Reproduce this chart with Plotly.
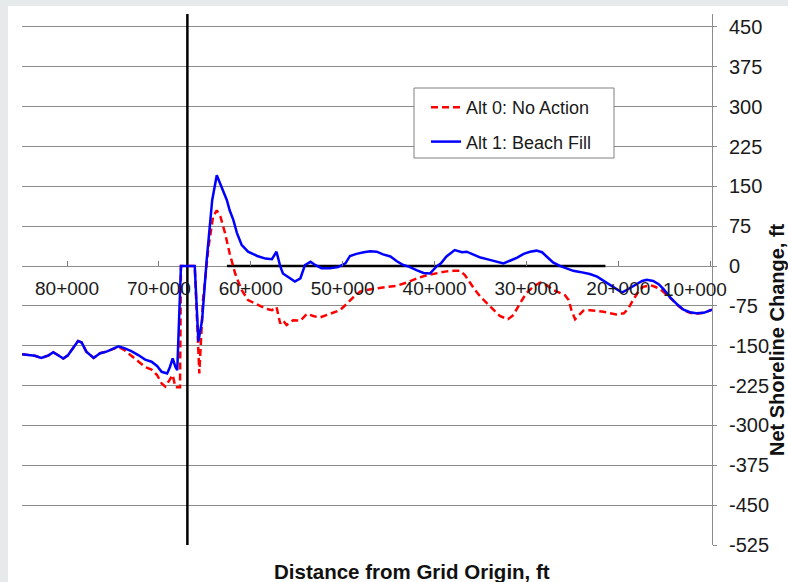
import plotly.graph_objects as go

# Station (ft from grid origin) and net shoreline change (ft)
alt0_station = [84900, 84200, 83500, 82800, 82000, 81500, 81000, 80400, 79900, 79300,
                78800, 78400, 77900, 77100, 76400, 75700, 75100, 74400, 73700, 73000,
                72200, 71500, 70800, 70200, 69700, 69300, 68800, 68500, 68200, 67700,
                67600, 66100, 65600, 65200, 64600, 64100, 63700, 63300, 62800, 62300,
                61700, 61000, 60300, 59300, 58400, 57700, 57200, 56800, 56500, 56100,
                55400, 54600, 53900, 53200, 52500, 51700, 51000, 50300, 49600, 48800,
                48100, 47400, 46300, 45200, 44100, 43000, 41900, 40800, 39800, 38700,
                37900, 37200, 36700, 36100, 35600, 35000, 34300, 33600, 32900, 32000,
                31400, 30700, 30000, 29200, 28500, 27800, 27100, 26300, 25800, 25400,
                25100, 24700, 24200, 23800, 23100, 22300, 21600, 20900, 20200, 19400,
                18900, 18400, 17800, 17300, 16500, 16000, 15400, 14400, 13600, 12900,
                12200, 11500, 10700, 9800]
alt0_change = [-166, -168, -169, -173, -168, -162, -168, -174, -168, -152,
               -141, -144, -161, -173, -164, -161, -157, -152, -159, -168,
               -180, -190, -195, -205, -221, -227, -212, -205, -228, -228,
               0, 0, -202, -64, 36, 93, 105, 93, 62, 24,
               -14, -45, -64, -73, -80, -83, -77, -108, -102, -111,
               -102, -103, -90, -94, -97, -92, -88, -83, -72, -58,
               -48, -45, -42, -39, -37, -31, -23, -17, -13, -10,
               -9, -9, -17, -33, -45, -58, -70, -83, -94, -100,
               -92, -70, -51, -38, -31, -36, -45, -51, -55, -64,
               -83, -100, -92, -84, -83, -84, -86, -89, -91, -89,
               -80, -64, -48, -39, -36, -39, -44, -59, -73, -83,
               -88, -90, -88, -82]

alt1_station = [84900, 84200, 83500, 82800, 82000, 81500, 81000, 80400, 79900, 79300,
                78800, 78400, 77900, 77100, 76400, 75700, 75000, 74400, 73700, 73000,
                72200, 71500, 70800, 70200, 69700, 69100, 68800, 68500, 68200, 68000,
                67600, 66100, 65700, 65300, 64800, 64200, 63700, 63200, 62600, 62300,
                61900, 61500, 61000, 60300, 59300, 58400, 57700, 57200, 56800, 56500,
                55700, 55200, 54600, 54100, 53500, 53000, 52300, 51400, 50500, 49700,
                49200, 48500, 47700, 47000, 46300, 45600, 44800, 44100, 43400, 42800,
                41900, 41200, 40500, 39800, 39300, 38700, 37800, 37000, 36500, 35800,
                35000, 34300, 33600, 33000, 32500, 31800, 31000, 30300, 29600, 28900,
                28300, 27800, 27100, 26300, 25600, 24900, 24200, 23800, 23100, 22300,
                21600, 20900, 20200, 19600, 19100, 18500, 18000, 17400, 16900, 16200,
                15600, 15100, 14400, 13600, 12900, 12200, 11500, 10700, 9800]
alt1_change = [-166, -168, -169, -173, -168, -162, -168, -174, -168, -152,
               -141, -144, -161, -173, -164, -161, -155, -151, -155, -160,
               -168, -176, -180, -188, -199, -202, -190, -174, -190, -196,
               0, 0, -142, -102, 11, 124, 171, 149, 124, 105,
               87, 62, 40, 27, 19, 14, 13, 27, 0, -14,
               -23, -29, -23, 2, 8, 2, -4, -4, -2, 5,
               19, 23, 26, 28, 27, 22, 18, 9, 2, -1,
               -8, -13, -14, -1, 5, 18, 30, 26, 27, 22,
               16, 13, 10, 7, 5, 10, 16, 23, 27, 29,
               26, 18, 7, 0, -4, -9, -11, -12, -15, -20,
               -28, -36, -43, -50, -45, -39, -33, -28, -26, -28,
               -34, -43, -58, -72, -82, -87, -89, -88, -82]

# Reference marks: station line and project reach along zero change
station_line_x = [66900, 66900]
station_line_y = [-525, 475]
reach_x = [62600, 21400]
reach_y = [0, 0]

x_ticks = [80000, 70000, 60000, 50000, 40000, 30000, 20000, 10000]
x_tick_text = ["80+000", "70+000", "60+000", "50+000", "40+000", "30+000", "20+000", "10+000"]
y_ticks = list(range(-525, 451, 75))
y_tick_text = [str(v) for v in y_ticks]

X_RANGE = [84900, 9800]
Y_RANGE = [-525, 474.4]

FONT = "Liberation Sans, Arial, sans-serif"

# plot-area geometry in pixels, used to place paper-referenced items
PL, PR, PT, PB = 22, 712, 14, 545


def px_x(px):
    return (px - PL) / (PR - PL)


def px_y(py):
    return (PB - py) / (PB - PT)


fig = go.Figure()

fig.add_trace(go.Scatter(
    x=station_line_x, y=station_line_y, mode="lines",
    line=dict(color="#000000", width=2.5), showlegend=False, hoverinfo="skip"))
fig.add_trace(go.Scatter(
    x=reach_x, y=reach_y, mode="lines",
    line=dict(color="#000000", width=2.5), showlegend=False, hoverinfo="skip"))

fig.add_trace(go.Scatter(
    x=alt0_station, y=alt0_change, mode="lines", name="Alt 0: No Action",
    legendgroup="a0",
    line=dict(color="#ff0000", width=2.5, dash="7px,4px")))
fig.add_trace(go.Scatter(
    x=alt1_station, y=alt1_change, mode="lines", name="Alt 1: Beach Fill",
    legendgroup="a1",
    line=dict(color="#0000ff", width=2.5)))

# x axis crosses the value axis at zero
x_pos = (0 - Y_RANGE[0]) / (Y_RANGE[1] - Y_RANGE[0])

# the last station label sits next to the value-axis labels, so it is drawn
# separately and nudged left of its tick
axis_tick_text = x_tick_text[:-1] + [""]
last_label = dict(
    text=x_tick_text[-1], xref="x", yref="y", x=x_ticks[-1], y=0,
    xanchor="center", yanchor="middle", yshift=-23, xshift=-15,
    showarrow=False, font=dict(size=19, family=FONT, color="#1a1a1a"))

fig.update_layout(
    width=788, height=582,
    margin=dict(l=PL, r=788 - PR, t=PT, b=582 - PB),
    paper_bgcolor="#e7eaea",
    plot_bgcolor="#ffffff",
    font=dict(family=FONT, color="#1a1a1a"),
    xaxis=dict(
        range=X_RANGE, tickvals=x_ticks, ticktext=axis_tick_text,
        anchor="free", position=x_pos,
        showgrid=False, zeroline=False, showline=False,
        ticks="inside", ticklen=5, tickcolor="#777777", tickwidth=1,
        tickfont=dict(size=19, family=FONT, color="#1a1a1a"),
        ticklabelstandoff=9,
    ),
    yaxis=dict(
        range=Y_RANGE, tickvals=y_ticks, ticktext=y_tick_text, side="right",
        showgrid=True, gridcolor="#8c8c8c", gridwidth=1.2,
        zeroline=False, showline=True, linecolor="#8c8c8c", linewidth=1,
        ticks="outside", ticklen=4, tickcolor="#8c8c8c",
        tickfont=dict(size=20, family=FONT, color="#1a1a1a"),
        ticklabelstandoff=8,
    ),
    legend=dict(
        x=px_x(426), y=px_y(89), xanchor="left", yanchor="top",
        bgcolor="rgba(0,0,0,0)", borderwidth=0,
        font=dict(size=18, family=FONT, color="#1a1a1a"),
        traceorder="grouped", tracegroupgap=8,
    ),
    shapes=[
        dict(type="rect", xref="paper", yref="paper", layer="below",
             x0=px_x(8), x1=px_x(790), y0=px_y(590), y1=px_y(6),
             fillcolor="#ffffff", line=dict(width=0)),
        # legend frame
        dict(type="rect", xref="paper", yref="paper", layer="above",
             x0=px_x(414), x1=px_x(614), y0=px_y(158), y1=px_y(88),
             fillcolor="#ffffff", line=dict(color="#808080", width=1)),
    ],
    annotations=[
        last_label,
        dict(text="<b>Distance from Grid Origin, ft</b>", xref="paper", yref="paper",
             x=px_x(412), y=px_y(571), xanchor="center", yanchor="middle",
             showarrow=False, font=dict(size=20.5, family=FONT, color="#111111")),
        dict(text="<b>Net Shoreline Change, ft</b>", xref="paper", yref="paper",
             x=px_x(777), y=px_y(340), xanchor="center", yanchor="middle",
             textangle=-90, showarrow=False,
             font=dict(size=20, family=FONT, color="#111111")),
    ],
)

fig.write_html("out.html")
